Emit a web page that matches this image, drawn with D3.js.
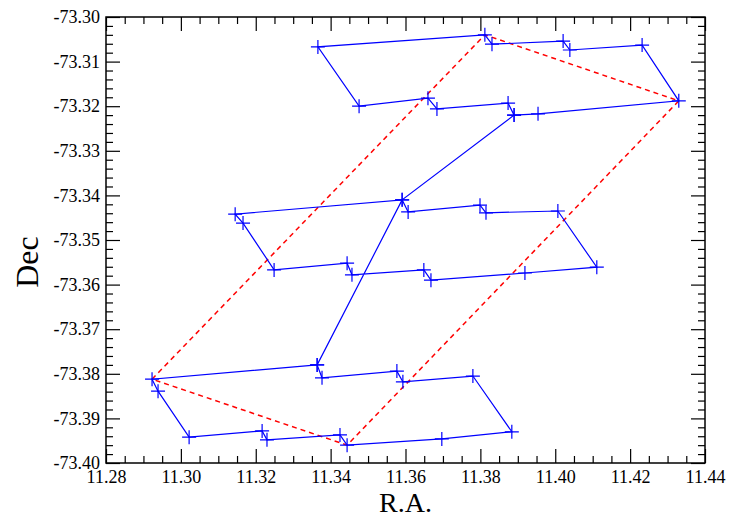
<!DOCTYPE html>
<html>
<head>
<meta charset="utf-8">
<script src="https://cdn.jsdelivr.net/npm/d3@7"></script>
<style>
  html, body { margin: 0; padding: 0; background: #fff; }
  svg { display: block; }
  svg text { font-family: "Liberation Serif", "Times New Roman", serif !important; fill: #000; }
</style>
</head>
<body>
<svg id="chart" width="729" height="522"></svg>
<script>
// ---- data ----
const raTicks = [11.28, 11.30, 11.32, 11.34, 11.36, 11.38, 11.40, 11.42, 11.44];
const decTicks = [-73.30, -73.31, -73.32, -73.33, -73.34, -73.35, -73.36, -73.37, -73.38, -73.39, -73.40];

// blue dither path (R.A., Dec), in drawing order
const pathRA = [
  11.3364, 11.2923, 11.2939, 11.3022, 11.3217, 11.3230, 11.3425, 11.3444, 11.3697, 11.3884,
  11.3780, 11.3593, 11.3577, 11.3377, 11.3364,
  11.3591, 11.3145, 11.3166, 11.3249, 11.3444, 11.3457, 11.3649, 11.3668, 11.3919, 11.4111,
  11.4007, 11.3815, 11.3799, 11.3607, 11.3591,
  11.3890, 11.3954, 11.4330, 11.4232, 11.4039, 11.4021, 11.3831, 11.3812, 11.3366, 11.3476,
  11.3660, 11.3684, 11.3874, 11.3890
];
const pathDec = [
  -73.3780, -73.3812, -73.3839, -73.3942, -73.3928, -73.3948, -73.3937, -73.3960, -73.3946, -73.3930,
  -73.3805, -73.3818, -73.3794, -73.3809, -73.3780,
  -73.3410, -73.3442, -73.3462, -73.3567, -73.3552, -73.3578, -73.3567, -73.3590, -73.3574, -73.3561,
  -73.3435, -73.3439, -73.3422, -73.3437, -73.3410,
  -73.3220, -73.3217, -73.3188, -73.3063, -73.3074, -73.3054, -73.3061, -73.3040, -73.3067, -73.3200,
  -73.3182, -73.3206, -73.3193, -73.3220
];

// red dashed outline (field corners)
const boxRA = [11.2923, 11.3812, 11.4330, 11.3444, 11.2923];
const boxDec = [-73.3812, -73.3040, -73.3188, -73.3960, -73.3812];

// ---- layout ----
const pL = 106, pR = 705, pT = 17, pB = 463;

const svg = d3.select("#chart");
const x = d3.scaleLinear().domain([11.28, 11.44]).range([pL, pR]);
const y = d3.scaleLinear().domain([-73.40, -73.30]).range([pB, pT]);

const raMinor = d3.range(0, 33).map(i => 11.28 + i * 0.005).filter(v => raTicks.every(t => Math.abs(t - v) > 1e-6));
const decMinor = d3.range(0, 51).map(i => -73.30 - i * 0.002).filter(v => decTicks.every(t => Math.abs(t - v) > 1e-6));

const fmt = d => d.toFixed(2);
const majorLen = 14, minorLen = 7;
function styleAxis(g) {
  g.select(".domain").remove();
  g.attr("font-family", "Liberation Serif").attr("font-size", null);
  g.selectAll(".tick line").attr("stroke", "#000").attr("stroke-width", 1.2);
}
function styleLabels(g) {
  g.selectAll("text").style("font-size", "18px").attr("fill", "#000");
}

// bottom
svg.append("g").attr("transform", `translate(0,${pB})`)
  .call(d3.axisBottom(x).tickValues(raTicks).tickSize(-majorLen).tickPadding(7).tickFormat(fmt))
  .call(styleAxis).call(styleLabels);
svg.append("g").attr("transform", `translate(0,${pB})`)
  .call(d3.axisBottom(x).tickValues(raMinor).tickSize(-minorLen).tickFormat(""))
  .call(styleAxis);
// top
svg.append("g").attr("transform", `translate(0,${pT})`)
  .call(d3.axisTop(x).tickValues(raTicks).tickSize(-majorLen).tickFormat(""))
  .call(styleAxis);
svg.append("g").attr("transform", `translate(0,${pT})`)
  .call(d3.axisTop(x).tickValues(raMinor).tickSize(-minorLen).tickFormat(""))
  .call(styleAxis);
// left
svg.append("g").attr("transform", `translate(${pL},0)`)
  .call(d3.axisLeft(y).tickValues(decTicks).tickSize(-majorLen).tickPadding(6).tickFormat(fmt))
  .call(styleAxis).call(styleLabels);
svg.append("g").attr("transform", `translate(${pL},0)`)
  .call(d3.axisLeft(y).tickValues(decMinor).tickSize(-minorLen).tickFormat(""))
  .call(styleAxis);
// right
svg.append("g").attr("transform", `translate(${pR},0)`)
  .call(d3.axisRight(y).tickValues(decTicks).tickSize(-majorLen).tickFormat(""))
  .call(styleAxis);
svg.append("g").attr("transform", `translate(${pR},0)`)
  .call(d3.axisRight(y).tickValues(decMinor).tickSize(-minorLen).tickFormat(""))
  .call(styleAxis);

// frame
svg.append("rect").attr("x", pL).attr("y", pT)
  .attr("width", pR - pL).attr("height", pB - pT)
  .attr("fill", "none").attr("stroke", "#000").attr("stroke-width", 1.5);

// red dashed outline
const boxPts = boxRA.map((r, i) => [x(r), y(boxDec[i])]);
svg.append("path").attr("d", d3.line()(boxPts))
  .attr("fill", "none").attr("stroke", "#ff0000").attr("stroke-width", 1.5)
  .attr("stroke-dasharray", "5,4");

// blue path
const pts = pathRA.map((r, i) => [x(r), y(pathDec[i])]);
svg.append("path").attr("d", d3.line()(pts))
  .attr("fill", "none").attr("stroke", "#0000ff").attr("stroke-width", 1.2);

// + markers
const mk = 7;
svg.append("g").selectAll("path").data(pts).join("path")
  .attr("d", d => `M${d[0] - mk},${d[1]}H${d[0] + mk}M${d[0]},${d[1] - mk}V${d[1] + mk}`)
  .attr("stroke", "#0000ff").attr("stroke-width", 1.2).attr("fill", "none");

// axis titles
svg.append("text").attr("x", (pL + pR) / 2).attr("y", 512)
  .attr("text-anchor", "middle").style("font-size", "28px").text("R.A.");
svg.append("text").attr("transform", `translate(38,262) rotate(-90)`)
  .attr("text-anchor", "middle").style("font-size", "32px").text("Dec");
</script>
</body>
</html>
